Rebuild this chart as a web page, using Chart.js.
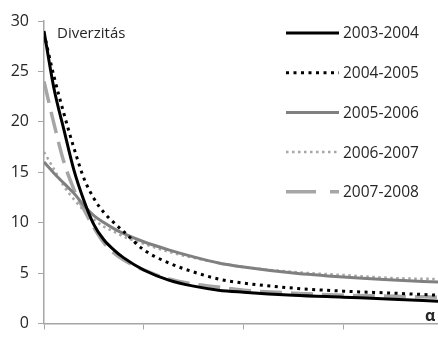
<!DOCTYPE html>
<html>
<head>
<meta charset="utf-8">
<script src="https://cdn.jsdelivr.net/npm/chart.js@4/dist/chart.umd.min.js"></script>
<style>
  html, body { margin: 0; padding: 0; background: #fff; }
  #wrap { width: 438px; height: 342px; position: relative; }
</style>
</head>
<body>
<div id="wrap"><canvas id="divChart"></canvas></div>
<script>
// alpha values (x) and diversity values per period
const alphas = [0, 0.1, 0.2, 0.3, 0.4, 0.5, 0.6, 0.7, 0.8, 1, 1.25, 1.5, 1.75, 2, 2.5, 3, 3.5, 3.95];
const periods = ['2003-2004', '2004-2005', '2005-2006', '2006-2007', '2007-2008'];
const d0304 = [29, 23.3, 19.2, 15.2, 12.2, 9.8, 8.3, 7.3, 6.5, 5.3, 4.3, 3.7, 3.3, 3.1, 2.8, 2.6, 2.4, 2.2];
const d0405 = [28.8, 24.5, 20.8, 17.4, 14.4, 12.4, 11.0, 10.0, 9.1, 7.3, 6.0, 5.1, 4.4, 4.0, 3.5, 3.2, 3.0, 2.8];
const d0506 = [16, 14.9, 13.9, 12.9, 11.7, 10.7, 10.0, 9.4, 8.9, 8.1, 7.3, 6.6, 6.0, 5.6, 5.0, 4.6, 4.3, 4.1];
const d0607 = [17, 15.3, 13.6, 12.3, 11.2, 10.3, 9.6, 9.1, 8.6, 7.9, 7.1, 6.5, 6.0, 5.6, 5.1, 4.8, 4.5, 4.4];
const d0708 = [24, 19.8, 16.0, 13.3, 11.3, 9.5, 8.0, 7.0, 6.3, 5.3, 4.4, 3.9, 3.6, 3.3, 3.0, 2.8, 2.7, 2.6];
const yTicks = [0, 5, 10, 15, 20, 25, 30];

const FONT = '"Open Sans", sans-serif';

function pts(arr) {
    return arr.map((v, i) => ({ x: alphas[i], y: v }));
}

const styles = [
    { color: '#000000', width: 3, dash: [], cap: 'butt' },
    { color: '#000000', width: 3, dash: [3, 4.5], cap: 'butt' },
    { color: '#808080', width: 3, dash: [], cap: 'butt' },
    { color: '#a6a6a6', width: 2.5, dash: [2.5, 3.5], cap: 'butt' },
    { color: '#a6a6a6', width: 3.5, dash: [22, 9], cap: 'butt' }
];
const series = [d0304, d0405, d0506, d0607, d0708];

const datasets = series.map((s, i) => ({
    label: periods[i],
    data: pts(s),
    borderColor: styles[i].color,
    borderWidth: styles[i].width,
    borderDash: styles[i].dash,
    borderCapStyle: styles[i].cap,
    pointRadius: 0,
    fill: false,
    cubicInterpolationMode: 'monotone'
}));

// legend + labels drawn by hand to match the original layout
const extras = {
    id: 'extras',
    afterDraw(chart) {
        const ctx = chart.ctx;
        ctx.save();
        chart.data.datasets.forEach((ds, i) => {
            const y = 33 + i * 39.7;
            ctx.beginPath();
            ctx.strokeStyle = ds.borderColor;
            ctx.lineWidth = ds.borderWidth;
            ctx.setLineDash(i === 4 ? [30, 14] : ds.borderDash);
            ctx.lineCap = ds.borderCapStyle;
            ctx.moveTo(286, y);
            ctx.lineTo(339, y);
            ctx.stroke();
            ctx.setLineDash([]);
            ctx.fillStyle = '#262626';
            ctx.font = '15.5px ' + FONT;
            ctx.textBaseline = 'middle';
            ctx.textAlign = 'left';
            ctx.fillText(ds.label, 343, y + 1);
        });
        ctx.fillStyle = '#262626';
        ctx.font = '15px ' + FONT;
        ctx.textBaseline = 'alphabetic';
        ctx.fillText('Diverzitás', 57, 38);
        ctx.font = 'bold 16px ' + FONT;
        ctx.fillText('α', 425, 321);
        ctx.restore();
    }
};

const chart = new Chart(document.getElementById('divChart').getContext('2d'), {
    type: 'line',
    data: { datasets: datasets },
    options: {
        responsive: true,
        maintainAspectRatio: false,
        animation: false,
        layout: { padding: { top: 21, right: 0, bottom: 0, left: 0 } },
        plugins: { legend: { display: false }, tooltip: { enabled: false } },
        scales: {
            x: {
                type: 'linear',
                min: 0,
                max: 3.95,
                ticks: { stepSize: 1, display: false },
                grid: { drawOnChartArea: false, drawTicks: true, tickLength: 6, color: '#a6a6a6' },
                border: { color: '#a6a6a6', width: 1.5 },
                afterFit(scale) { scale.height = 17; }
            },
            y: {
                min: 0,
                max: 30,
                afterBuildTicks(scale) { scale.ticks = yTicks.map(v => ({ value: v })); },
                ticks: { color: '#262626', font: { family: FONT, size: 16 }, padding: 9 },
                grid: { drawOnChartArea: false, drawTicks: true, tickLength: 6, color: '#a6a6a6' },
                border: { color: '#a6a6a6', width: 1.5 },
                afterFit(scale) { scale.width = 44; }
            }
        }
    },
    plugins: [extras]
});
</script>
</body>
</html>
